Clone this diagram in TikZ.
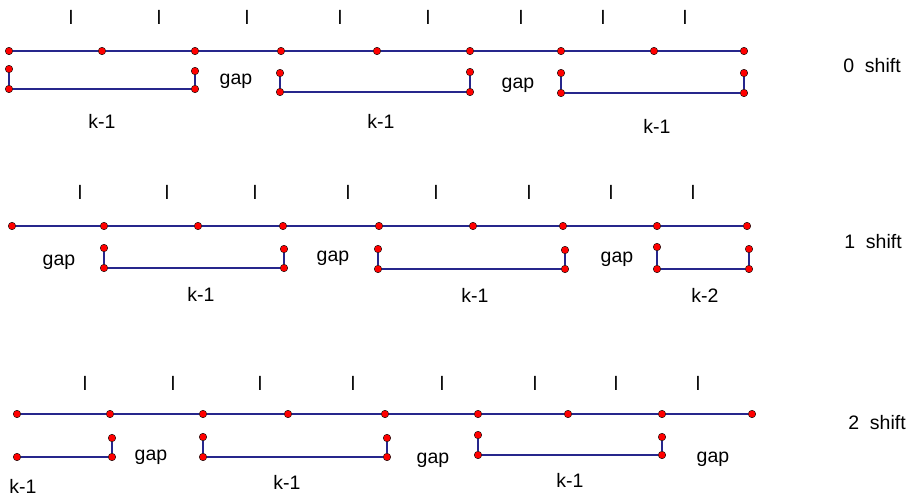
\documentclass[tikz,border=0pt]{standalone}
\usepackage{fontspec}
\setmainfont{Liberation Sans}
\definecolor{navy}{RGB}{38,38,140}
\begin{document}
\begin{tikzpicture}[x=1pt,y=-1pt,
  dot/.style={circle,fill=red,draw=black,line width=0.4pt,inner sep=0pt,minimum size=7.5pt},
  seg/.style={draw=navy,line width=1.3pt},
  lbl/.style={font=\fontsize{19.5}{22}\selectfont,inner sep=0pt}]
\useasboundingbox (0,0) rectangle (916,496);
% ---------- row 1 : 0 shift ----------
\foreach \n/\x in {1/9,2/102,3/195,4/281,5/377,6/470,7/561,8/654,9/744}
  \node[dot] (a\n) at (\x,51) {};
\draw[seg] (a1)--(a2)--(a3)--(a4)--(a5)--(a6)--(a7)--(a8)--(a9);
\node[dot] (p11) at (9,69) {};   \node[dot] (p12) at (9,89) {};
\node[dot] (p13) at (195,89) {}; \node[dot] (p14) at (195,71) {};
\node[dot] (p21) at (280,73) {}; \node[dot] (p22) at (280,92) {};
\node[dot] (p23) at (470,92) {}; \node[dot] (p24) at (470,72) {};
\node[dot] (p31) at (561,73) {}; \node[dot] (p32) at (561,93) {};
\node[dot] (p33) at (744,93) {}; \node[dot] (p34) at (744,73) {};
\draw[seg] (p11)--(p12)--(p13)--(p14);
\draw[seg] (p21)--(p22)--(p23)--(p24);
\draw[seg] (p31)--(p32)--(p33)--(p34);
\foreach \n/\x in {1/71,2/159,3/247,4/340,5/428,6/521,7/603,8/685}
  \node[lbl] (la\n) at (\x,17) {l};
\node[lbl] (g11) at (236,81) {gap};
\node[lbl] (g12) at (518,85) {gap};
\node[lbl] (k11) at (102,121) {k-1};
\node[lbl] (k12) at (381,121) {k-1};
\node[lbl] (k13) at (657,126) {k-1};
\node[lbl] (s0) at (872,66) {0\hspace{0.55em}shift};
% ---------- row 2 : 1 shift ----------
\foreach \n/\x in {1/12,2/104,3/198,4/283,5/379,6/473,7/563,8/657,9/747}
  \node[dot] (b\n) at (\x,226) {};
\draw[seg] (b1)--(b2)--(b3)--(b4)--(b5)--(b6)--(b7)--(b8)--(b9);
\node[dot] (q11) at (104,248) {}; \node[dot] (q12) at (104,268) {};
\node[dot] (q13) at (284,268) {}; \node[dot] (q14) at (284,249) {};
\node[dot] (q21) at (378,249) {}; \node[dot] (q22) at (378,269) {};
\node[dot] (q23) at (565,269) {}; \node[dot] (q24) at (565,250) {};
\node[dot] (q31) at (657,247) {}; \node[dot] (q32) at (657,269) {};
\node[dot] (q33) at (749,269) {}; \node[dot] (q34) at (749,249) {};
\draw[seg] (q11)--(q12)--(q13)--(q14);
\draw[seg] (q21)--(q22)--(q23)--(q24);
\draw[seg] (q31)--(q32)--(q33)--(q34);
\foreach \n/\x in {1/80,2/167,3/255,4/348,5/436,6/529,7/611,8/693}
  \node[lbl] (lb\n) at (\x,192) {l};
\node[lbl] (g21) at (59,262) {gap};
\node[lbl] (g22) at (333,258) {gap};
\node[lbl] (g23) at (617,259) {gap};
\node[lbl] (k21) at (201,294) {k-1};
\node[lbl] (k22) at (475,295) {k-1};
\node[lbl] (k23) at (705,295) {k-2};
\node[lbl] (s1) at (873,242) {1\hspace{0.55em}shift};
% ---------- row 3 : 2 shift ----------
\foreach \n/\x in {1/17,2/110,3/203,4/288,5/385,6/478,7/568,8/662,9/752}
  \node[dot] (c\n) at (\x,414) {};
\draw[seg] (c1)--(c2)--(c3)--(c4)--(c5)--(c6)--(c7)--(c8)--(c9);
\node[dot] (r12) at (17,457) {};
\node[dot] (r13) at (112,457) {}; \node[dot] (r14) at (112,438) {};
\node[dot] (r21) at (203,437) {}; \node[dot] (r22) at (203,457) {};
\node[dot] (r23) at (387,457) {}; \node[dot] (r24) at (387,438) {};
\node[dot] (r31) at (478,435) {}; \node[dot] (r32) at (478,455) {};
\node[dot] (r33) at (662,455) {}; \node[dot] (r34) at (662,437) {};
\draw[seg] (r12)--(r13)--(r14);
\draw[seg] (r21)--(r22)--(r23)--(r24);
\draw[seg] (r31)--(r32)--(r33)--(r34);
\foreach \n/\x in {1/85,2/173,3/260,4/353,5/442,6/535,7/616,8/698}
  \node[lbl] (lc\n) at (\x,383) {l};
\node[lbl] (g31) at (151,457) {gap};
\node[lbl] (g32) at (433,460) {gap};
\node[lbl] (g33) at (713,459) {gap};
\node[lbl] (k31) at (23,486) {k-1};
\node[lbl] (k32) at (287,482) {k-1};
\node[lbl] (k33) at (570,480) {k-1};
\node[lbl] (s2) at (877,423) {2\hspace{0.55em}shift};
\end{tikzpicture}
\end{document}
